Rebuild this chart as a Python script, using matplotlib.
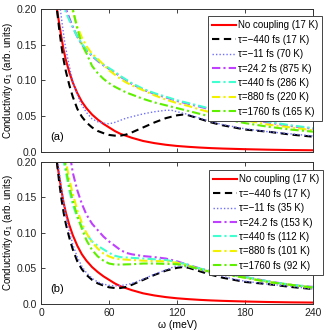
import numpy as np
import matplotlib
matplotlib.use("Agg")
import matplotlib.pyplot as plt

plt.rcParams['font.family'] = ['Liberation Sans', 'DejaVu Sans']
plt.rcParams['mathtext.fontset'] = 'custom'
plt.rcParams['mathtext.rm'] = 'Liberation Sans'
plt.rcParams['mathtext.it'] = 'Liberation Sans:italic'

# ---- data (omega in meV, sigma_1 in arb. units) ----
# no coupling, 17 K (same in both panels)
w_red = [10, 12, 14, 16, 18, 20, 22, 25, 28, 32, 36, 40, 45, 50, 55, 60, 65, 70, 80, 90,
         100, 110, 120, 130, 140, 150, 160, 180, 200, 220, 240]
s_red = [0.26, 0.23, 0.20, 0.18, 0.16, 0.142, 0.128, 0.111, 0.097, 0.082, 0.07, 0.061, 0.052, 0.045,
         0.039, 0.034, 0.029, 0.025, 0.0195, 0.015, 0.012, 0.0097, 0.008, 0.0068, 0.0058, 0.005,
         0.0044, 0.0035, 0.0028, 0.0023, 0.002]

# tau=-440 fs, 17 K (same in both panels)
w_blk = [10, 12, 14, 16, 18, 20, 22, 25, 28, 32, 36, 40, 45, 50, 55, 60, 65, 70, 75, 80, 90,
         100, 110, 120, 125, 130, 140, 150, 160, 170, 180, 200, 220, 240]
s_blk = [0.30, 0.25, 0.20, 0.172, 0.148, 0.128, 0.112, 0.093, 0.077, 0.06, 0.049, 0.041, 0.034,
         0.029, 0.026, 0.0235, 0.0225, 0.0225, 0.024, 0.027, 0.034, 0.041, 0.047, 0.051, 0.052,
         0.051, 0.046, 0.041, 0.037, 0.034, 0.031, 0.028, 0.024, 0.021]

# panel (a): tau=-11 fs (70 K)
w_a_blue = [14, 17, 19, 21, 23, 26, 30, 35, 40, 45, 50, 55, 60, 65, 70, 75, 80, 90, 100, 110, 115,
            120, 130, 140, 150, 160, 180, 200, 220, 240]
s_a_blue = [0.24, 0.20, 0.175, 0.152, 0.135, 0.112, 0.088, 0.068, 0.055, 0.046, 0.042, 0.040,
            0.039, 0.041, 0.044, 0.047, 0.049, 0.053, 0.056, 0.058, 0.058, 0.056, 0.052, 0.047,
            0.042, 0.038, 0.032, 0.028, 0.025, 0.022]

# panel (a): dash-dot curves
w_a = [18, 20, 22, 25, 28, 32, 36, 40, 45, 50, 55, 60, 65, 70, 75, 80, 90, 100, 110, 120, 130,
       140, 150, 160, 180, 200, 220, 240]
s_a_mag = [0.24, 0.22, 0.20, 0.187, 0.175, 0.161, 0.150, 0.142, 0.134, 0.127, 0.121, 0.116, 0.111,
           0.105, 0.100, 0.095, 0.087, 0.081, 0.076, 0.071, 0.067, 0.063, 0.059, 0.055, 0.047,
           0.041, 0.036, 0.032]
s_a_cyan = [0.23, 0.205, 0.195, 0.184, 0.174, 0.161, 0.151, 0.143, 0.135, 0.128, 0.122, 0.117, 0.112,
            0.106, 0.101, 0.096, 0.088, 0.082, 0.077, 0.072, 0.068, 0.064, 0.060, 0.056, 0.048,
            0.042, 0.037, 0.033]
s_a_yel = [0.30, 0.27, 0.245, 0.22, 0.197, 0.175, 0.160, 0.148, 0.137, 0.130, 0.122, 0.114, 0.108,
           0.102, 0.097, 0.093, 0.086, 0.079, 0.073, 0.068, 0.064, 0.059, 0.055, 0.051, 0.044,
           0.038, 0.034, 0.030]
s_a_grn = [0.30, 0.27, 0.245, 0.22, 0.200, 0.172, 0.150, 0.138, 0.120, 0.110, 0.102, 0.096, 0.091,
           0.087, 0.083, 0.080, 0.074, 0.069, 0.065, 0.061, 0.057, 0.053, 0.049, 0.046, 0.040,
           0.035, 0.031, 0.028]

# panel (b): tau=-11 fs (35 K)
w_b_blue = [12, 15, 17, 19, 21, 24, 28, 32, 36, 40, 45, 50, 55, 60, 65, 70, 75, 80, 90, 100, 110,
            118, 125, 130, 140, 150, 160, 170, 180, 200, 220, 240]
s_b_blue = [0.25, 0.20, 0.175, 0.152, 0.132, 0.108, 0.084, 0.066, 0.053, 0.044, 0.036, 0.031,
            0.028, 0.0262, 0.0255, 0.026, 0.027, 0.029, 0.035, 0.042, 0.048, 0.053, 0.053, 0.052,
            0.048, 0.043, 0.039, 0.035, 0.032, 0.028, 0.025, 0.021]

# panel (b): dash-dot curves
w_b = [18, 20, 22, 25, 28, 32, 36, 40, 45, 50, 55, 60, 65, 70, 75, 80, 90, 100, 110, 120, 130,
       140, 150, 160, 180, 200, 220, 240]
s_b_mag = [0.30, 0.27, 0.245, 0.215, 0.185, 0.160, 0.141, 0.126, 0.113, 0.104, 0.095, 0.088, 0.082,
           0.076, 0.072, 0.070, 0.0675, 0.066, 0.064, 0.060, 0.055, 0.050, 0.046, 0.043, 0.038,
           0.032, 0.027, 0.024]
s_b_cyan = [0.23, 0.20, 0.185, 0.16, 0.140, 0.122, 0.109, 0.099, 0.088, 0.082, 0.077, 0.072, 0.068,
            0.066, 0.0655, 0.065, 0.064, 0.063, 0.062, 0.059, 0.055, 0.050, 0.046, 0.043, 0.038,
            0.032, 0.027, 0.024]
s_b_yel = [0.24, 0.22, 0.20, 0.175, 0.155, 0.132, 0.114, 0.100, 0.087, 0.078, 0.071, 0.067, 0.064,
           0.063, 0.0625, 0.062, 0.061, 0.0605, 0.060, 0.058, 0.054, 0.049, 0.045, 0.042, 0.037,
           0.031, 0.027, 0.023]
s_b_grn = [0.23, 0.215, 0.19, 0.165, 0.145, 0.124, 0.106, 0.090, 0.076, 0.067, 0.061, 0.057,
           0.0555, 0.0555, 0.0558, 0.056, 0.057, 0.057, 0.0565, 0.056, 0.053, 0.049, 0.045, 0.042,
           0.037, 0.031, 0.027, 0.023]

labels_a = ['No coupling (17 K)', u'τ=\u2212440 fs (17 K)', u'τ=\u221211 fs (70 K)',
            u'τ=24.2 fs (875 K)', u'τ=440 fs (286 K)', u'τ=880 fs (220 K)', u'τ=1760 fs (165 K)']
labels_b = ['No coupling (17 K)', u'τ=\u2212440 fs (17 K)', u'τ=\u221211 fs (35 K)',
            u'τ=24.2 fs (153 K)', u'τ=440 fs (112 K)', u'τ=880 fs (101 K)', u'τ=1760 fs (92 K)']

xticks = [0, 60, 120, 180, 240]
yticks = [0.0, 0.05, 0.10, 0.15, 0.20]
yticklabels = ['0.0', '0.05', '0.10', '0.15', '0.20']

RED = '#ff0000'
BLUE = '#6e6eff'
MAG = '#bf40ff'
CYAN = '#40ffd0'
YEL = '#f2f200'
GRN = '#5fef00'

fig = plt.figure(figsize=(3.32, 3.31), dpi=100)
ax1 = fig.add_axes([0.1235, 0.5417, 0.8205, 0.4313])
ax2 = fig.add_axes([0.1235, 0.0816, 0.8205, 0.4290])


def draw(ax, w_bl, s_bl, w_dd, s_m, s_c, s_y, s_g, labels, tag, leg_pos):
    ax.plot(w_red, s_red, color=RED, lw=1.5, label=labels[0])
    ax.plot(w_blk, s_blk, color='k', lw=1.5, ls=(0, (3.5, 2.2)), label=labels[1])
    ax.plot(w_bl, s_bl, color=BLUE, lw=1.0, ls=(0, (1, 1.5)), label=labels[2])
    ax.plot(w_dd, s_m, color=MAG, lw=1.5, ls=(0, (4, 1.5, 1, 1.5)), label=labels[3])
    ax.plot(w_dd, s_c, color=CYAN, lw=1.5, ls=(0, (4, 1.5, 1, 1.5)), label=labels[4])
    ax.plot(w_dd, s_y, color=YEL, lw=1.5, ls=(0, (4, 1.5, 1, 1.5)), label=labels[5])
    ax.plot(w_dd, s_g, color=GRN, lw=1.5, ls=(0, (4, 1.5, 1, 1.5)), label=labels[6])
    ax.set_xlim(0, 240)
    ax.set_ylim(0, 0.2)
    ax.set_xticks(xticks)
    ax.set_yticks(yticks)
    ax.set_yticklabels(yticklabels)
    ax.tick_params(direction='in', top=True, right=True, length=3, width=0.6,
                   labelsize=7.5, colors='#222222', pad=3)
    for s in ax.spines.values():
        s.set_linewidth(0.7)
        s.set_color('#333333')
    ax.text(8, 0.021, tag, fontsize=8, ha='left', va='center')
    ax.set_ylabel(u'Conductivity σ$_1$ (arb. units)', fontsize=7, labelpad=1.5)
    leg = ax.legend(loc='upper left', bbox_to_anchor=leg_pos, bbox_transform=fig.transFigure,
                    fontsize=7, handlelength=2.4, handletextpad=0.2, labelspacing=0.45,
                    borderpad=0.45, borderaxespad=0, fancybox=False, framealpha=1,
                    edgecolor='#444444')
    leg.get_frame().set_linewidth(0.7)


draw(ax1, w_a_blue, s_a_blue, w_a, s_a_mag, s_a_cyan, s_a_yel, s_a_grn, labels_a, '(a)',
     (208 / 332, 1 - 16 / 331))
draw(ax2, w_b_blue, s_b_blue, w_b, s_b_mag, s_b_cyan, s_b_yel, s_b_grn, labels_b, '(b)',
     (209 / 332, 1 - 170 / 331))
ax1.set_xticklabels([])
ax2.set_xlabel(u'ω (meV)', fontsize=7.5, labelpad=1)

fig.savefig('out.png', dpi=100)
